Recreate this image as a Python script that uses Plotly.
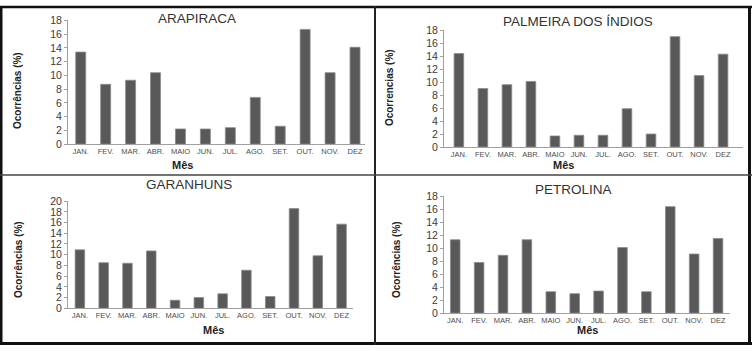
import plotly.graph_objects as go

W, H = 752, 351

months = ["JAN.", "FEV.", "MAR.", "ABR.", "MAIO", "JUN.", "JUL.", "AGO.", "SET.", "OUT.", "NOV.", "DEZ"]
idx = list(range(12))

arapiraca = [13.4, 8.7, 9.3, 10.4, 2.2, 2.2, 2.4, 6.8, 2.6, 16.7, 10.4, 14.1]
palmeira = [14.4, 9.0, 9.6, 10.1, 1.7, 1.8, 1.8, 5.9, 2.0, 17.0, 11.0, 14.3]
garanhuns = [10.9, 8.5, 8.4, 10.7, 1.5, 2.0, 2.7, 7.1, 2.2, 18.6, 9.8, 15.7]
petrolina = [11.3, 7.8, 8.9, 11.3, 3.3, 3.0, 3.4, 10.1, 3.3, 16.4, 9.1, 11.5]

titles = ["ARAPIRACA", "PALMEIRA DOS ÍNDIOS", "GARANHUNS", "PETROLINA"]
ytitles = ["Ocorrências (%)", "Ocorrencias (%)", "Ocorrências (%)", "Ocorrências (%)"]
xtitle = "Mês"
ymax = [18, 18, 20, 18]
series = [arapiraca, palmeira, garanhuns, petrolina]

# panel geometry in pixels: x-axis start, x-axis end, x range, y of zero, y of max
geo = [
    dict(x0=68, x1=365, xr=[-0.51, 11.4], yb=143, yt=15,
         title=(197, 13), ytit=(18, 88), xtit=(182, 165)),
    dict(x0=444, x1=743, xr=[-0.62, 11.83], yb=146, yt=25,
         title=(578, 16), ytit=(389, 85), xtit=(563, 165)),
    dict(x0=68, x1=353, xr=[-0.5, 11.48], yb=313, yt=202,
         title=(189, 185), ytit=(18, 263), xtit=(213, 335)),
    dict(x0=444, x1=730, xr=[-0.47, 11.5], yb=318, yt=197,
         title=(573, 190), ytit=(396, 262), xtit=(587, 335)),
]

FONT = "Liberation Sans, Arial, sans-serif"
fig = go.Figure()
annotations = []
for i, (vals, g) in enumerate(zip(series, geo)):
    n = "" if i == 0 else str(i + 1)
    fig.add_trace(go.Bar(
        x=idx, y=vals, width=0.4,
        marker=dict(color="#595959", line=dict(color="#8a8a8a", width=0.8)),
        xaxis="x" + n, yaxis="y" + n, showlegend=False,
    ))
    fig.update_layout(**{
        "xaxis" + n: dict(
            domain=[g["x0"] / W, g["x1"] / W], range=g["xr"],
            anchor="y" + n, tickvals=idx, ticktext=months,
            tickfont=dict(size=7.5, color="#4d4d4d", family=FONT),
            showline=True, linecolor="#a0a0a0", linewidth=1,
            ticks="", showgrid=False, zeroline=False, fixedrange=True,
        ),
        "yaxis" + n: dict(
            domain=[1 - g["yb"] / H, 1 - g["yt"] / H], range=[0, ymax[i]],
            anchor="x" + n, dtick=2, tick0=0,
            tickfont=dict(size=10.5, color="#3a3a3a", family=FONT),
            showline=True, linecolor="#a0a0a0", linewidth=1,
            ticks="outside", ticklen=3, tickcolor="#a0a0a0",
            showgrid=False, zeroline=False, fixedrange=True,
        ),
    })
    annotations.append(dict(
        text=titles[i], x=g["title"][0] / W, y=1 - g["title"][1] / H,
        xref="paper", yref="paper", showarrow=False,
        font=dict(size=13.5, color="#333333", family=FONT),
        xanchor="center", yanchor="middle"))
    annotations.append(dict(
        text="<b>" + ytitles[i] + "</b>", x=g["ytit"][0] / W, y=1 - g["ytit"][1] / H,
        xref="paper", yref="paper", showarrow=False, textangle=-90,
        font=dict(size=10, color="#222222", family=FONT),
        xanchor="center", yanchor="middle"))
    annotations.append(dict(
        text="<b>" + xtitle + "</b>", x=g["xtit"][0] / W, y=1 - g["xtit"][1] / H,
        xref="paper", yref="paper", showarrow=False,
        font=dict(size=11, color="#222222", family=FONT),
        xanchor="center", yanchor="middle"))

def px_line(x0, y0, x1, y1, color, width):
    return dict(type="line", xref="paper", yref="paper",
                x0=x0 / W, y0=1 - y0 / H, x1=x1 / W, y1=1 - y1 / H,
                line=dict(color=color, width=width))

shapes = [
    px_line(1, 0, 1, H, "#111111", 3),
    px_line(0, 1, W, 1, "#111111", 2.5),
    px_line(749.5, 0, 749.5, H, "#111111", 3),
    px_line(0, 349.5, W, 349.5, "#111111", 3),
    px_line(375, 0, 375, H, "#222222", 2),
    px_line(0, 175, W, 175, "#444444", 1.5),
]

fig.update_layout(
    width=W, height=H, margin=dict(l=0, r=0, t=0, b=0),
    paper_bgcolor="white", plot_bgcolor="white",
    annotations=annotations, shapes=shapes, bargap=0.6,
    font=dict(family=FONT),
)
fig.write_html("out.html")
